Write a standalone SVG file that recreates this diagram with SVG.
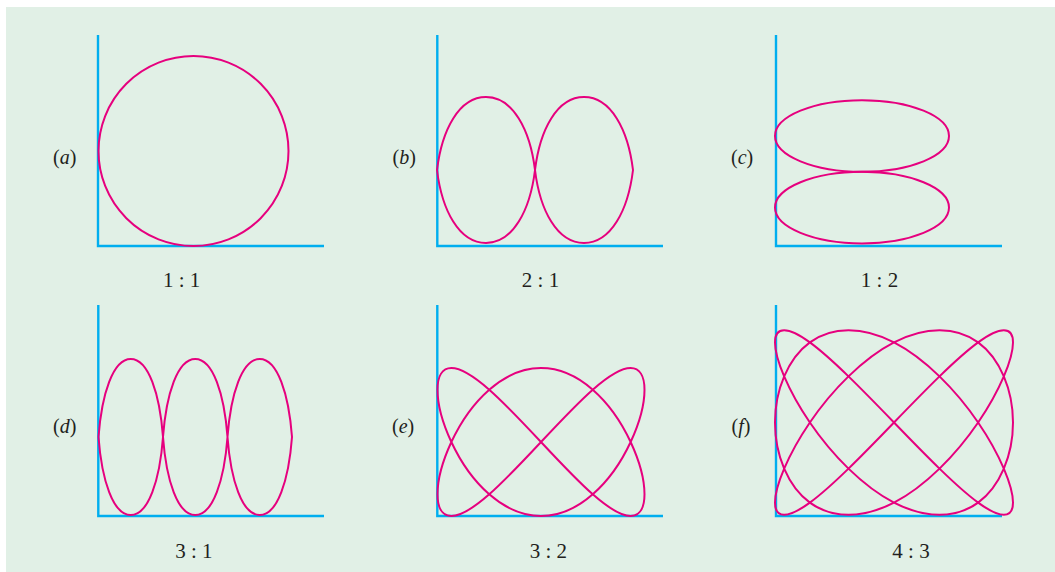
<svg xmlns="http://www.w3.org/2000/svg" width="1055" height="572" viewBox="0 0 1055 572">
<style>
.bg{fill:#e1f0e6}
.axis{fill:none;stroke:#00aeef;stroke-width:2.4;stroke-linejoin:miter}
.curve{fill:none;stroke:#e6007e;stroke-width:2;stroke-linejoin:round}
.lab{font-family:"Liberation Serif","Times New Roman",serif;font-size:20px;fill:#231f20}
.num{font-family:"Liberation Serif","Times New Roman",serif;font-size:21px;fill:#231f20;text-anchor:middle}
</style>
<rect x="0" y="0" width="1055" height="572" fill="#ffffff"/>
<rect class="bg" x="6" y="7" width="1049" height="565"/>

<g id="panel-a">
<polyline class="axis" points="98,35 98,246 324,246"/>
<circle class="curve" cx="193.5" cy="151" r="95"/>
<text class="lab" x="53" y="164">(<tspan font-style="italic">a</tspan>)</text>
<text class="num" x="181.7" y="287">1 : 1</text>
</g>

<g id="panel-b">
<polyline class="axis" points="437.3,35 437.3,246 663,246"/>
<path class="curve" d="M437,170 C441.9,129.8 459,97 486,97 C513,97 530.1,129.8 535,170 C539.9,210.2 557,243 584,243 C611,243 628.1,210.2 633,170 C628.1,129.8 611,97 584,97 C557,97 539.9,129.8 535,170 C530.1,210.2 513,243 486,243 C459,243 441.9,210.2 437,170 Z"/>
<text class="lab" x="392.5" y="164">(<tspan font-style="italic">b</tspan>)</text>
<text class="num" x="540.5" y="287">2 : 1</text>
</g>

<g id="panel-c">
<polyline class="axis" points="776,35 776,246 1002,246"/>
<ellipse class="curve" cx="862" cy="136" rx="87" ry="35.8"/>
<ellipse class="curve" cx="862" cy="207.6" rx="87" ry="35.8"/>
<text class="lab" x="731" y="164">(<tspan font-style="italic">c</tspan>)</text>
<text class="num" x="879.5" y="287">1 : 2</text>
</g>

<g id="panel-d">
<polyline class="axis" points="98.3,305 98.3,516 324,516"/>
<path class="curve" d="M98.5,437 C101.7,394.1 113,359 130.75,359 C148.5,359 159.8,394.1 163,437 C166.2,479.9 177.5,515 195.25,515 C213,515 224.3,479.9 227.5,437 C230.7,394.1 242,359 259.75,359 C277.5,359 288.8,394.1 292,437 C288.8,479.9 277.5,515 259.75,515 C242,515 230.7,479.9 227.5,437 C224.3,394.1 213,359 195.25,359 C177.5,359 166.2,394.1 163,437 C159.8,479.9 148.5,515 130.75,515 C113,515 101.7,479.9 98.5,437 Z"/>
<text class="lab" x="53" y="433">(<tspan font-style="italic">d</tspan>)</text>
<text class="num" x="193.8" y="558">3 : 1</text>
</g>

<g id="panel-e">
<polyline class="axis" points="437.3,305 437.3,516 663,516"/>
<path class="curve" vector-effect="non-scaling-stroke" transform="translate(541 442) scale(1.035 -0.74)" d="M0,0 C17.5,26.2 34.9,52.2 50,70.7 C65.1,89.2 77.9,100 86.6,100 C95.3,100 100,89.2 100,70.7 C100,52.2 95.3,26.2 86.6,0 C77.9,-26.2 65.1,-52.2 50,-70.7 C34.9,-89.2 17.5,-100 0,-100 C-17.5,-100 -34.9,-89.2 -50,-70.7 C-65.1,-52.2 -77.9,-26.2 -86.6,0 C-95.3,26.2 -100,52.2 -100,70.7 C-100,89.2 -95.3,100 -86.6,100 C-77.9,100 -65.1,89.2 -50,70.7 C-34.9,52.2 -17.5,26.2 0,0 C17.5,-26.2 34.9,-52.2 50,-70.7 C65.1,-89.2 77.9,-100 86.6,-100 C95.3,-100 100,-89.2 100,-70.7 C100,-52.2 95.3,-26.2 86.6,0 C77.9,26.2 65.1,52.2 50,70.7 C34.9,89.2 17.5,100 0,100 C-17.5,100 -34.9,89.2 -50,70.7 C-65.1,52.2 -77.9,26.2 -86.6,0 C-95.3,-26.2 -100,-52.2 -100,-70.7 C-100,-89.2 -95.3,-100 -86.6,-100 C-77.9,-100 -65.1,-89.2 -50,-70.7 C-34.9,-52.2 -17.5,-26.2 0,0 Z"/>
<text class="lab" x="392" y="433">(<tspan font-style="italic">e</tspan>)</text>
<text class="num" x="548.3" y="558">3 : 2</text>
</g>

<g id="panel-f">
<polyline class="axis" points="776,305 776,516 1002,516"/>
<path class="curve" vector-effect="non-scaling-stroke" transform="translate(894 422.5) scale(1.19 0.925)" d="M0,0 C26.2,34.9 52.2,69.2 70.7,86.6 C89.2,104.1 100,104.1 100,86.6 C100,69.2 89.2,34.9 70.7,0 C52.2,-34.9 26.2,-69.2 0,-86.6 C-26.2,-104.1 -52.2,-104.1 -70.7,-86.6 C-89.2,-69.2 -100,-34.9 -100,0 C-100,34.9 -89.2,69.2 -70.7,86.6 C-52.2,104.1 -26.2,104.1 0,86.6 C26.2,69.2 52.2,34.9 70.7,0 C89.2,-34.9 100,-69.2 100,-86.6 C100,-104.1 89.2,-104.1 70.7,-86.6 C52.2,-69.2 26.2,-34.9 0,0 C-26.2,34.9 -52.2,69.2 -70.7,86.6 C-89.2,104.1 -100,104.1 -100,86.6 C-100,69.2 -89.2,34.9 -70.7,0 C-52.2,-34.9 -26.2,-69.2 0,-86.6 C26.2,-104.1 52.2,-104.1 70.7,-86.6 C89.2,-69.2 100,-34.9 100,0 C100,34.9 89.2,69.2 70.7,86.6 C52.2,104.1 26.2,104.1 0,86.6 C-26.2,69.2 -52.2,34.9 -70.7,0 C-89.2,-34.9 -100,-69.2 -100,-86.6 C-100,-104.1 -89.2,-104.1 -70.7,-86.6 C-52.2,-69.2 -26.2,-34.9 0,0 Z"/>
<text class="lab" x="731.5" y="433">(<tspan font-style="italic">f</tspan>)</text>
<text class="num" x="911" y="558">4 : 3</text>
</g>
</svg>
